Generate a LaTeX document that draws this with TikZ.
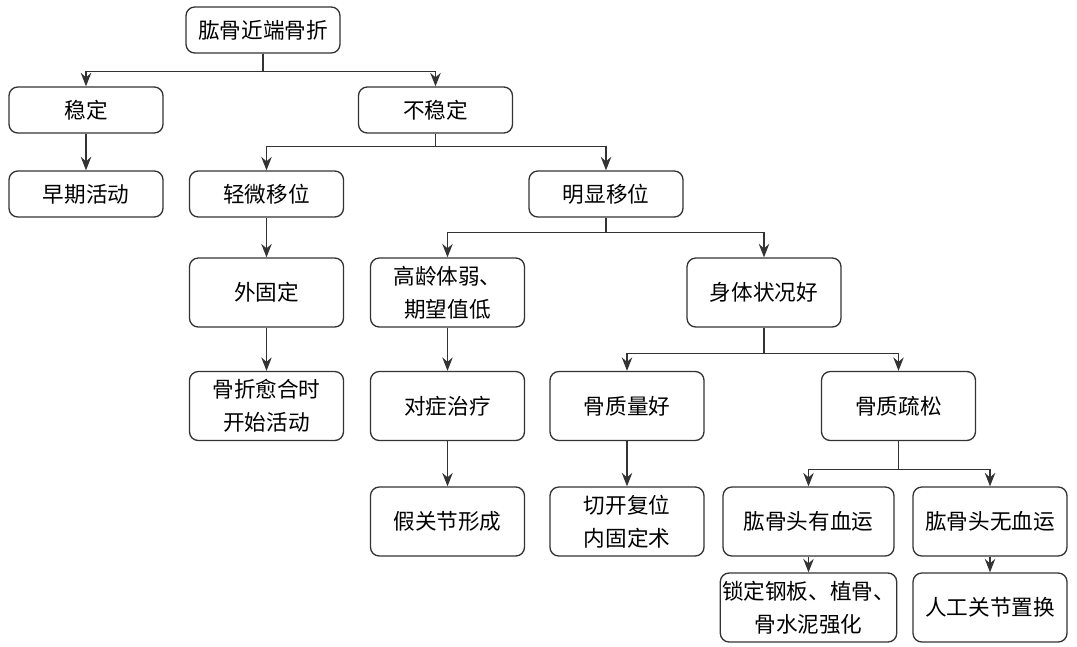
\documentclass[tikz,border=0pt]{standalone}
\usepackage{fontspec}
\setmainfont{Noto Sans CJK SC}
\usetikzlibrary{arrows.meta, positioning}
\tikzset{
  % --- So do dieu tri ---------------------------------------
  proc/.style={draw=black!80, rounded corners=5pt, fill=white,
    minimum width=3.08cm, minimum height=0.92cm, align=center,
    font=\fontsize{12.3}{19}\selectfont, line width=0.75pt, inner sep=1pt},
  proct/.style={proc, minimum height=1.38cm},
  procw/.style={proct, minimum width=3.42cm},
  fl/.style={-{Stealth[length=2.7mm, width=2.1mm, inset=0.9mm]},
    draw=black!80, line width=0.75pt}
}
\begin{document}
\begin{tikzpicture}

  \useasboundingbox (0,0) rectangle (21.54,-12.92);

  % --- Hang tren ------------------------------------------------------
  \node[proc] (root) at (5.26,-0.60) {肱骨近端骨折};
  \node[proc] (wd)   at (1.72,-2.20) {稳定};
  \node[proc] (bwd)  at (8.71,-2.20) {不稳定};
  \node[proc] (zqhd) at (1.72,-3.88) {早期活动};
  \node[proc] (qw)   at (5.33,-3.88) {轻微移位};
  \node[proc] (mx)   at (12.12,-3.88) {明显移位};

  % --- Nhanh giua -----------------------------------------------------
  \node[proct] (wgd) at (5.33,-5.85) {外固定};
  \node[proct] (gl)  at (8.95,-5.85) {高龄体弱、\\期望值低};
  \node[proct] (st)  at (15.28,-5.85) {身体状况好};
  \node[proct] (yh)  at (5.33,-8.12) {骨折愈合时\\开始活动};
  \node[proct] (dz)  at (8.95,-8.12) {对症治疗};
  \node[proct] (gzh) at (12.54,-8.12) {骨质量好};
  \node[proct] (ss)  at (17.97,-8.12) {骨质疏松};

  % --- Hang duoi ------------------------------------------------------
  \node[proct] (jgj) at (8.95,-10.43) {假关节形成};
  \node[proct] (qk)  at (12.54,-10.43) {切开复位\\内固定术};
  \node[procw] (yxy) at (16.17,-10.43) {肱骨头有血运};
  \node[proct] (wxy) at (19.80,-10.43) {肱骨头无血运};
  \node[procw] (sd)  at (16.17,-12.15) {锁定钢板、植骨、\\骨水泥强化};
  \node[proct] (rg)  at (19.80,-12.15) {人工关节置换};

  % --- Mui ten re nhanh -----------------------------------------------
  \foreach \c in {wd,bwd} \draw[fl] (root.south) -- ++(0,-0.36) -| (\c.north);
  \foreach \c in {qw,mx} \draw[fl] (bwd.south) -- ++(0,-0.26) -| (\c.north);
  \foreach \c in {gl,st} \draw[fl] (mx.south) -- ++(0,-0.30) -| (\c.north);
  \foreach \c in {gzh,ss} \draw[fl] (st.south) -- ++(0,-0.52) -| (\c.north);
  \foreach \c in {yxy,wxy} \draw[fl] (ss.south) -- ++(0,-0.56) -| (\c.north);

  % --- Mui ten thang --------------------------------------------------
  \draw[fl] (wd) -- (zqhd);
  \draw[fl] (qw) -- (wgd);
  \draw[fl] (wgd) -- (yh);
  \draw[fl] (gl) -- (dz);
  \draw[fl] (dz) -- (jgj);
  \draw[fl] (gzh) -- (qk);
  \draw[fl] (yxy) -- (sd);
  \draw[fl] (wxy) -- (rg);

\end{tikzpicture}
\end{document}
